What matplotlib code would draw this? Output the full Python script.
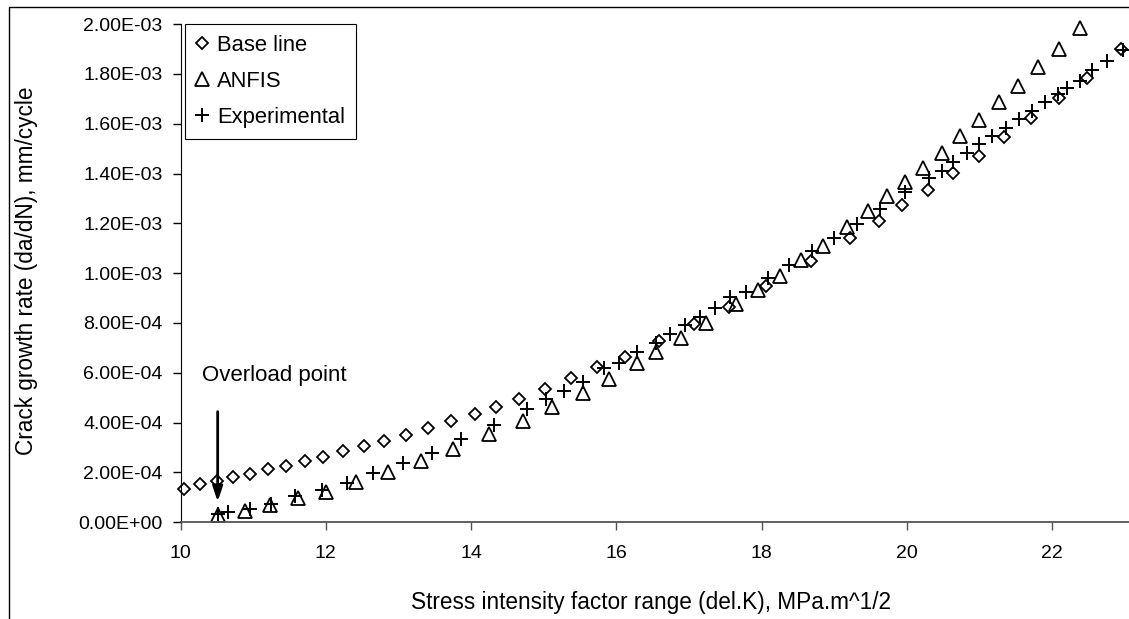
import matplotlib
matplotlib.use("Agg")
import matplotlib.pyplot as plt
from matplotlib.patches import Rectangle
from matplotlib.ticker import FuncFormatter, MultipleLocator
import numpy as np


#Base line (diamonds)
baseK = [10.04, 10.26, 10.50, 10.72, 10.96, 11.20, 11.45, 11.71, 11.96, 12.24,
         12.53, 12.80, 13.10, 13.41, 13.73, 14.05, 14.34, 14.66, 15.02, 15.37,
         15.73, 16.12, 16.59, 17.07, 17.55, 18.06, 18.68, 19.22, 19.62, 19.94,
         20.29, 20.63, 21.00, 21.34, 21.71, 22.09, 22.48, 22.95]
baseRate = [1.34e-4, 1.53e-4, 1.66e-4, 1.83e-4, 1.95e-4, 2.13e-4, 2.26e-4, 2.46e-4,
            2.64e-4, 2.85e-4, 3.07e-4, 3.28e-4, 3.52e-4, 3.78e-4, 4.08e-4, 4.34e-4,
            4.64e-4, 4.96e-4, 5.35e-4, 5.78e-4, 6.22e-4, 6.65e-4, 7.29e-4, 7.96e-4,
            8.66e-4, 9.49e-4, 1.047e-3, 1.141e-3, 1.210e-3, 1.273e-3, 1.335e-3,
            1.402e-3, 1.472e-3, 1.546e-3, 1.622e-3, 1.703e-3, 1.785e-3, 1.900e-3]

#ANFIS prediction (triangles)
anfisK = [10.51, 10.89, 11.23, 11.62, 12.00, 12.42, 12.85, 13.31, 13.75, 14.25,
          14.71, 15.11, 15.54, 15.90, 16.29, 16.55, 16.89, 17.23, 17.65, 17.95,
          18.25, 18.54, 18.85, 19.17, 19.47, 19.73, 19.97, 20.23, 20.48, 20.73,
          21.00, 21.27, 21.53, 21.81, 22.10, 22.38]
anfisRate = [2.9e-5, 4.5e-5, 6.9e-5, 9.8e-5, 1.23e-4, 1.63e-4, 2.01e-4, 2.46e-4,
             2.96e-4, 3.53e-4, 4.08e-4, 4.64e-4, 5.20e-4, 5.76e-4, 6.39e-4, 6.85e-4,
             7.39e-4, 7.99e-4, 8.77e-4, 9.33e-4, 9.89e-4, 1.051e-3, 1.111e-3,
             1.185e-3, 1.251e-3, 1.308e-3, 1.365e-3, 1.422e-3, 1.482e-3, 1.551e-3,
             1.616e-3, 1.685e-3, 1.752e-3, 1.827e-3, 1.901e-3, 1.984e-3]

#Experimental data (plus signs)
expK = [10.52, 10.65, 10.95, 11.24, 11.58, 11.95, 12.29, 12.65, 13.06, 13.46,
        13.86, 14.32, 14.77, 15.03, 15.28, 15.54, 15.83, 16.04, 16.29, 16.55,
        16.74, 16.95, 17.15, 17.36, 17.57, 17.79, 18.09, 18.38, 18.69, 19.00,
        19.32, 19.63, 19.97, 20.31, 20.48, 20.64, 20.83, 21.00, 21.18, 21.37,
        21.54, 21.72, 21.91, 22.08, 22.21, 22.38, 22.55, 22.76, 22.98]
expRate = [3.5e-5, 4.3e-5, 5.2e-5, 7.4e-5, 1.04e-4, 1.30e-4, 1.59e-4, 1.97e-4,
           2.39e-4, 2.80e-4, 3.35e-4, 3.91e-4, 4.54e-4, 4.94e-4, 5.29e-4, 5.65e-4,
           6.18e-4, 6.41e-4, 6.85e-4, 7.21e-4, 7.55e-4, 7.92e-4, 8.23e-4, 8.59e-4,
           9.06e-4, 9.26e-4, 9.80e-4, 1.033e-3, 1.087e-3, 1.141e-3, 1.198e-3,
           1.257e-3, 1.324e-3, 1.380e-3, 1.410e-3, 1.446e-3, 1.482e-3, 1.518e-3,
           1.549e-3, 1.582e-3, 1.620e-3, 1.649e-3, 1.685e-3, 1.719e-3, 1.743e-3,
           1.773e-3, 1.817e-3, 1.850e-3, 1.897e-3]

#Overload point annotation
overloadK = 10.51
overloadTip = 8.3e-5
overloadTail = 4.44e-4


def sciLabel(v, pos):
    """Excel style tick label, e.g. 2.00E-03."""
    return "%.2E" % v
#End of sciLabel()


def main():
    """Main method of the program."""
    plt.rcParams['font.family'] = ['Liberation Sans', 'DejaVu Sans']

    fig = plt.figure(figsize=(11.29, 6.19), dpi=100)
    ax = fig.add_axes([0.16, 0.1562, 0.84, 0.805])

    #Outer chart frame, cut off on the right and bottom like the original
    frame = Rectangle((9 / 1129, -0.05), 1.2, 1 - 7 / 619 + 0.05,
                      transform=fig.transFigure, fill=False,
                      edgecolor='black', linewidth=1.0, clip_on=False)
    fig.patches.append(frame)

    ax.plot(baseK, baseRate, linestyle='none', marker='D', markersize=6.5,
            markerfacecolor='white', markeredgecolor='black',
            markeredgewidth=1.3, label='Base line', clip_on=False)
    ax.plot(anfisK, anfisRate, linestyle='none', marker='^', markersize=9.5,
            markerfacecolor='none', markeredgecolor='black',
            markeredgewidth=1.3, label='ANFIS', clip_on=False)
    ax.plot(expK, expRate, linestyle='none', marker='+', markersize=10,
            color='black', markeredgewidth=1.4, label='Experimental',
            clip_on=False)

    #Arrow pointing to the overload point
    ax.annotate('', xy=(overloadK, overloadTip), xytext=(overloadK, overloadTail),
                arrowprops=dict(arrowstyle='-|>,head_length=0.9,head_width=0.3',
                                color='black', lw=2, shrinkA=0, shrinkB=0))
    ax.text(10.29, 5.88e-4, 'Overload point', fontsize=16, va='center',
            ha='left')

    ax.set_xlim(10, 23.06)
    ax.set_ylim(0, 2e-3)
    ax.xaxis.set_major_locator(MultipleLocator(2))
    ax.yaxis.set_major_locator(MultipleLocator(2e-4))
    ax.yaxis.set_major_formatter(FuncFormatter(sciLabel))

    ax.spines['top'].set_visible(False)
    ax.spines['right'].set_visible(False)
    ax.spines['left'].set_color('black')
    ax.spines['bottom'].set_color('#555555')
    ax.spines['bottom'].set_linewidth(1.3)
    ax.tick_params(axis='y', direction='out', length=6, width=1,
                   labelsize=14, pad=7, colors='black')
    ax.tick_params(axis='x', direction='out', length=6, width=1,
                   labelsize=14, pad=10, color='#555555')

    #Axis titles placed in figure pixels to match the original
    fig.text(651 / 1129, 1 - 603 / 619,
             'Stress intensity factor range (del.K), MPa.m^1/2',
             fontsize=16.3, ha='center', va='center')
    fig.text(27 / 1129, 1 - 271 / 619, 'Crack growth rate (da/dN), mm/cycle',
             fontsize=16.3, ha='center', va='center', rotation=90)

    leg = ax.legend(loc='upper left', bbox_to_anchor=(0.005, 1.0),
                    borderaxespad=0, fontsize=15.8, numpoints=1,
                    markerscale=1.0, handlelength=0.5, handletextpad=0.44,
                    labelspacing=0.68, borderpad=0.5, fancybox=False,
                    framealpha=1, edgecolor='black')
    leg.get_frame().set_linewidth(0.8)

    plt.savefig('out.png', dpi=100)
#End of main()


if __name__ == "__main__":
    main()
#if()
